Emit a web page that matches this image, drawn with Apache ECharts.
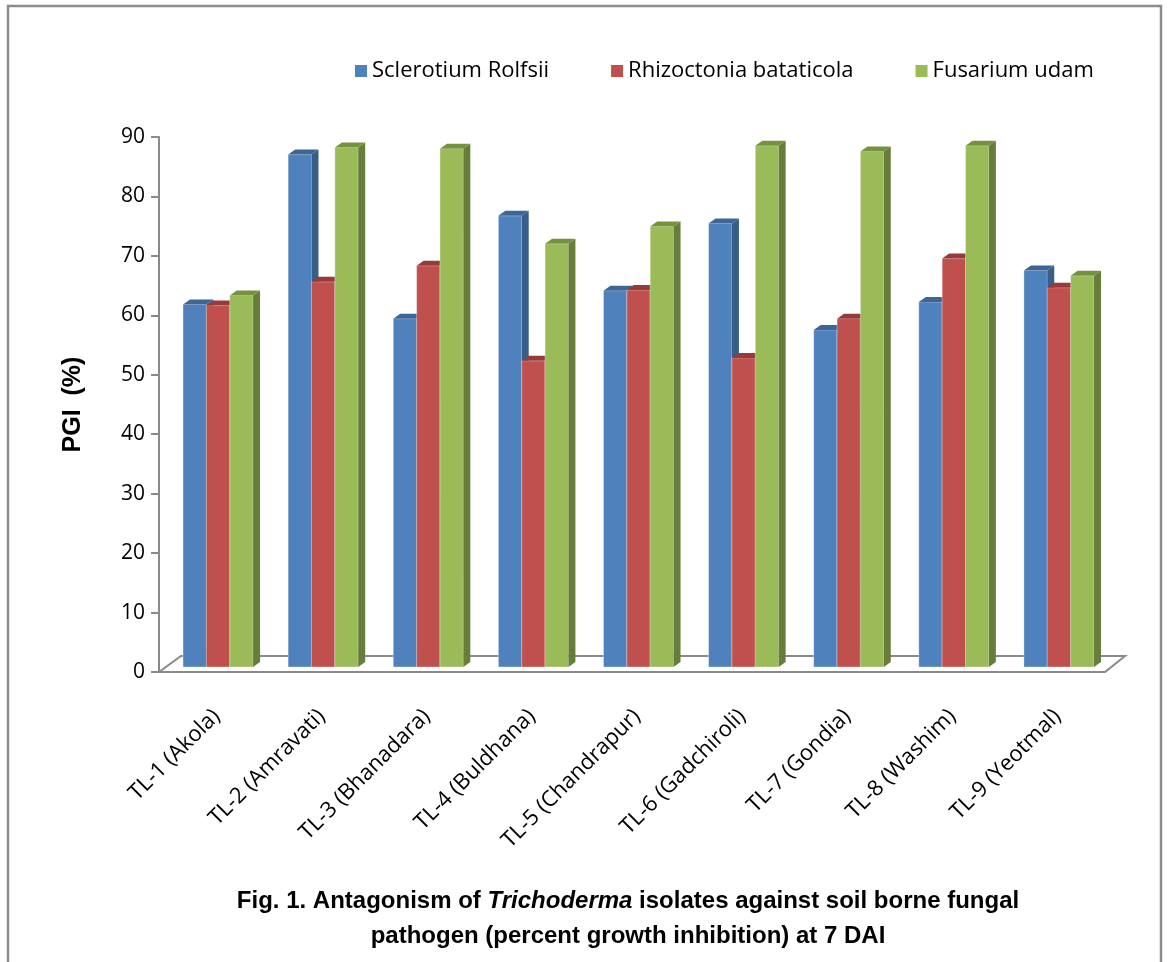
<!DOCTYPE html>
<html>
<head>
<meta charset="utf-8">
<script src="https://cdn.jsdelivr.net/npm/echarts@6/dist/echarts.min.js"></script>
<style>
  html, body { margin: 0; padding: 0; background: #fff; }
  #chart { width: 1168px; height: 962px; }
</style>
</head>
<body>
<div id="chart"></div>
<script>
// isolates (x categories)
const isolates = ['TL-1 (Akola)', 'TL-2 (Amravati)', 'TL-3 (Bhanadara)', 'TL-4 (Buldhana)',
  'TL-5 (Chandrapur)', 'TL-6 (Gadchiroli)', 'TL-7 (Gondia)', 'TL-8 (Washim)', 'TL-9 (Yeotmal)'];
const seriesNames = ['Sclerotium Rolfsii', 'Rhizoctonia bataticola', 'Fusarium udam'];
// PGI (%)
const sclerotium = [61.0, 86.2, 58.6, 75.9, 63.3, 74.6, 56.7, 61.4, 66.7];
const rhizoctonia = [60.8, 64.8, 67.5, 51.5, 63.4, 52.0, 58.6, 68.7, 63.8];
const fusarium = [62.5, 87.4, 87.2, 71.2, 74.1, 87.7, 86.7, 87.7, 65.8];
const yTicks = { min: 0, max: 90, interval: 10 };

// colours: front, top, side
const palette = [
  ['#4F81BD', '#3D6696', '#375D89'],
  ['#C0504D', '#963B39', '#8C3836'],
  ['#9BBB59', '#77923F', '#677D3A']
];
const DEPTH = [7, -5];     // bar depth offset
const SHIFT = [6.5, -5];   // bars sit a bit behind the front edge of the floor
const FLOOR = [22, -16];

const chart = echarts.init(document.getElementById('chart'));

function barRender(k) {
  const c = palette[k];
  return function (params, api) {
    const i = api.value(0);
    const top = api.coord([i, api.value(1)]);
    const base = api.coord([i, 0]);
    const band = api.size([1, 0])[0];
    const bw = band * 0.2222;
    const x0 = top[0] + SHIFT[0] - 1.5 * bw + k * bw;
    const x1 = x0 + bw;
    const yt = top[1] + SHIFT[1];
    const yb = base[1] + SHIFT[1];
    const dx = DEPTH[0], dy = DEPTH[1];
    return {
      type: 'group',
      children: [
        { type: 'rect', shape: { x: x0, y: yt, width: bw, height: yb - yt },
          style: { fill: c[0], stroke: 'rgba(255,255,255,0.35)', lineWidth: 1 } },
        { type: 'polygon', shape: { points: [[x1, yt], [x1 + dx, yt + dy], [x1 + dx, yb + dy], [x1, yb]] },
          style: { fill: c[2] } },
        { type: 'polygon', shape: { points: [[x0, yt], [x0 + dx, yt + dy], [x1 + dx, yt + dy], [x1, yt]] },
          style: { fill: c[1] } }
      ]
    };
  };
}

const values = [sclerotium, rhizoctonia, fusarium];
const barSeries = values.map((vals, k) => ({
  name: seriesNames[k],
  type: 'custom',
  xAxisIndex: 0,
  yAxisIndex: 0,
  z: 3,
  itemStyle: { color: palette[k][0] },
  renderItem: barRender(k),
  encode: { x: 0, y: 1 },
  data: vals.map((v, i) => [i, v])
}));

chart.setOption({
  animation: false,
  textStyle: { fontFamily: 'Open Sans' },
  legend: {
    data: seriesNames,
    left: 350,
    top: 55,
    itemWidth: 12,
    itemHeight: 12,
    itemGap: 62,
    icon: 'rect',
    textStyle: { fontSize: 22, color: '#000', fontFamily: 'Open Sans' }
  },
  grid: [
    { left: 159, right: 63, top: 137, bottom: 290 },
    { left: 164, right: 58, top: 137, bottom: 290 }
  ],
  xAxis: [
    { type: 'category', gridIndex: 0, data: isolates,
      axisLine: { show: false }, axisTick: { show: false }, axisLabel: { show: false } },
    { type: 'category', gridIndex: 1, data: isolates,
      axisLine: { show: false }, axisTick: { show: false },
      axisLabel: { rotate: 45, margin: 41, fontSize: 22, color: '#000', fontFamily: 'Open Sans', interval: 0 } }
  ],
  yAxis: [
    { type: 'value', gridIndex: 0, min: yTicks.min, max: yTicks.max, interval: yTicks.interval,
      name: 'PGI  (%)', nameLocation: 'middle', nameRotate: 90, nameGap: 73,
      nameTextStyle: { fontSize: 25, fontWeight: 'bold', color: '#000', fontFamily: 'Liberation Sans' },
      axisLine: { show: true, lineStyle: { color: '#8a8a8a', width: 2 } },
      axisTick: { show: true, length: 8, lineStyle: { color: '#8a8a8a', width: 2 } },
      axisLabel: { fontSize: 21, color: '#000', margin: 14, fontFamily: 'Open Sans' },
      splitLine: { show: false } },
    { type: 'value', gridIndex: 1, min: yTicks.min, max: yTicks.max, show: false }
  ],
  series: [
    {
      name: 'floor',
      type: 'custom',
      xAxisIndex: 0,
      yAxisIndex: 0,
      z: 1,
      silent: true,
      data: [[0, 0]],
      renderItem: function (params, api) {
        const cs = params.coordSys;
        const yb = cs.y + cs.height;
        return {
          type: 'polygon',
          shape: { points: [[cs.x, yb], [cs.x + cs.width, yb],
            [cs.x + cs.width + FLOOR[0] - 2, yb + FLOOR[1]], [cs.x + FLOOR[0], yb + FLOOR[1]]] },
          style: { fill: 'none', stroke: '#8a8a8a', lineWidth: 2 }
        };
      }
    }
  ].concat(barSeries),
  graphic: [
    { type: 'rect', shape: { x: 8, y: 6, width: 1153, height: 1000 },
      style: { fill: 'none', stroke: '#8c8c8c', lineWidth: 2.5 }, silent: true },
    { type: 'text', x: 628, y: 884,
      style: {
        text: '{b|Fig. 1. Antagonism of }{i|Trichoderma}{b| isolates against soil borne fungal}\n{b|pathogen (percent growth inhibition) at 7 DAI}',
        align: 'center',
        verticalAlign: 'top',
        rich: {
          b: { fontSize: 24, fontWeight: 'bold', fontFamily: 'Liberation Sans', fill: '#000', lineHeight: 35, align: 'center' },
          i: { fontSize: 24, fontWeight: 'bold', fontStyle: 'italic', fontFamily: 'Liberation Sans', fill: '#000', lineHeight: 35 }
        }
      } }
  ]
});
</script>
</body>
</html>
